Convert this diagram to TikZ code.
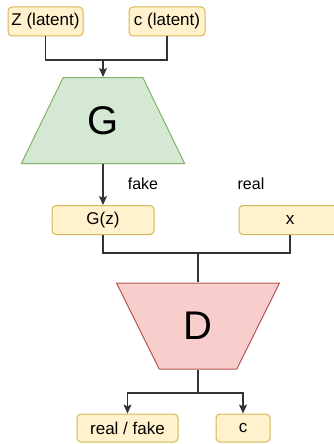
\documentclass[tikz,border=0pt]{standalone}
\usepackage{fontspec}
\setmainfont{Liberation Sans}
\usepackage{xcolor}
\definecolor{GanSand}{HTML}{FFF2CC}
\definecolor{GanOchre}{HTML}{D6B656}
\definecolor{GanMint}{HTML}{D5E8D4}
\definecolor{GanFern}{HTML}{82B366}
\definecolor{GanRose}{HTML}{F8CECC}
\definecolor{GanBrick}{HTML}{B85450}
\definecolor{GanInk}{HTML}{333333}
\usepackage{tikz}
\usetikzlibrary{arrows.meta,shapes.geometric}

\begin{document}
\begin{tikzpicture}[x=1pt,y=-1pt,
    tensor/.style={draw=GanOchre,fill=GanSand,rounded corners=4pt,minimum height=29pt,
      inner sep=0pt,line width=1pt,font=\fontsize{17}{20}\selectfont},
    net/.style={trapezium,trapezium stretches=true,minimum height=86pt,minimum width=164pt,
      inner sep=0pt,line width=1pt,font=\fontsize{40}{44}\selectfont},
    wire/.style={line width=1.1pt,color=GanInk},
    connector/.style={wire,-{Stealth[length=9pt,width=8pt,inset=2pt]}},
    tag/.style={font=\fontsize{16}{18}\selectfont}
  ]
    \useasboundingbox (0,0) rectangle (334,444);
    \clip (0,0) rectangle (334,444);

    % inputs of the generator
    \node[tensor,minimum width=75pt] (zlat) at (45.5,21.5) {Z (latent)};
    \node[tensor,minimum width=76pt] (clat) at (167,21.5) {c (latent)};
    \node[net,draw=GanFern,fill=GanMint,trapezium left angle=60,trapezium right angle=60]
      (gen) at (103,120.5) {G};

    % generated and real samples
    \node[tensor,minimum width=102pt] (fake) at (103,220) {G(z)};
    \node[tensor,minimum width=102pt] (real) at (290,220) {x};
    \node[tag] at (143,184) {fake};
    \node[tag] at (251,184) {real};

    \node[net,draw=GanBrick,fill=GanRose,trapezium left angle=120,trapezium right angle=120]
      (disc) at (198,326) {D};

    % discriminator heads
    \node[tensor,minimum width=101pt,minimum height=28pt] (verdict) at (127.5,428) {real / fake};
    \node[tensor,minimum width=54pt,minimum height=28pt] (cls) at (243,428) {c};

    \coordinate (zjoin) at (103,60);
    \coordinate (xjoin) at (198,253);
    \coordinate (split) at (198,393);

    \draw[wire] (zlat.south) |- (zjoin) -| (clat.south);
    \draw[connector] (zjoin) -- (gen.north);
    \draw[connector] (gen.south) -- (fake.north);
    \draw[wire] (fake.south) |- (xjoin) -| (real.south);
    \draw[wire] (xjoin) -- (disc.north);
    \draw[wire] (disc.south) -- (split);
    \draw[connector] (split) -| (verdict.north);
    \draw[connector] (split) -| (cls.north);
  \end{tikzpicture}
\end{document}
